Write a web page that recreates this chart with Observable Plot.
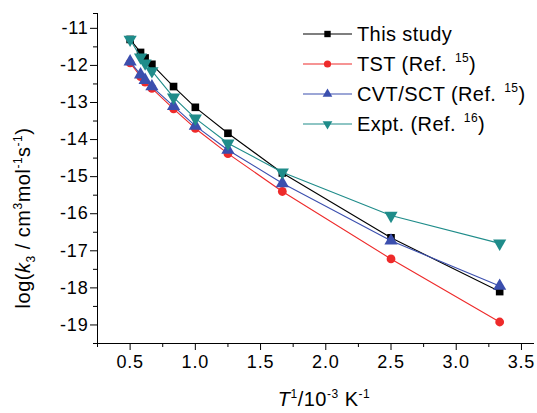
<!DOCTYPE html>
<html>
<head>
<meta charset="utf-8">
<script src="https://cdn.jsdelivr.net/npm/d3@7"></script>
<script src="https://cdn.jsdelivr.net/npm/@observablehq/plot@0.6"></script>
<style>
  body { margin: 0; background: #fff; }
  #wrap { position: relative; width: 537px; height: 413px; font-family: "Liberation Sans", Arial, sans-serif; color: #000; }
  #wrap > svg { position: absolute; left: 0; top: 0; }
  #wrap > svg text { letter-spacing: 0.8px; }
  .lbl { position: absolute; white-space: nowrap; font-size: 20px; line-height: 1; letter-spacing: 0.5px; }
  .lbl sup, .lbl sub { font-size: 12px; line-height: 0; }
  #ylab { left: 23px; top: 218px; transform: translate(-50%, -50%) rotate(-90deg); }
  #xlab { left: 324px; top: 399px; transform: translate(-50%, -50%); }
  #legend { position: absolute; left: 300px; top: 19px; }
  .row { display: flex; align-items: center; height: 30px; font-size: 20px; letter-spacing: 0.4px; white-space: nowrap; }
  .row svg { display: block; margin-right: 4px; flex: none; }
  .row sup { font-size: 12px; vertical-align: 0.75em; line-height: 0; margin-left: 2px; }
</style>
</head>
<body>
<div id="wrap"></div>
<script>
// 1/T (10^-3 K^-1)
const invT = [0.5, 0.58, 0.615, 0.667, 0.833, 1.0, 1.25, 1.667, 2.5, 3.333];
const thisStudy = [-11.3, -11.65, -11.8, -11.97, -12.57, -13.13, -13.83, -14.9, -16.65, -18.1];
const tst       = [-11.93, -12.3, -12.45, -12.62, -13.17, -13.7, -14.38, -15.4, -17.22, -18.92];
const cvtSct    = [-11.9, -12.25, -12.4, -12.57, -13.1, -13.63, -14.28, -15.18, -16.73, -17.95];
const expt      = [-11.3, -11.78, -11.94, -12.15, -12.86, -13.43, -14.1, -14.88, -16.05, -16.8];
const seriesNames = ["This study", "TST (Ref. 15)", "CVT/SCT (Ref. 15)", "Expt. (Ref. 16)"];
const seriesColors = ["#000000", "#ee2a2a", "#3b4fae", "#1f8c8a"];
const xMajor = [0.5, 1.0, 1.5, 2.0, 2.5, 3.0, 3.5];
const xMinor = [0.25, 0.75, 1.25, 1.75, 2.25, 2.75, 3.25];
const yMajor = [-19, -18, -17, -16, -15, -14, -13, -12, -11];
const yMinor = [-19.5, -18.5, -17.5, -16.5, -15.5, -14.5, -13.5, -12.5, -11.5, -10.6];

const triDown = {
  draw(ctx, size) {
    const y = -Math.sqrt(size / (Math.sqrt(3) * 3));
    ctx.moveTo(0, -2 * y);
    ctx.lineTo(-Math.sqrt(3) * y, y);
    ctx.lineTo(Math.sqrt(3) * y, y);
    ctx.closePath();
  }
};
const symbols = ["square", "circle", "triangle", triDown];
const radii = [4.3, 4.4, 4.9, 4.9];

const allValues = [thisStudy, tst, cvtSct, expt];
const data = allValues.flatMap((vals, i) => vals.map((v, j) => ({x: invT[j], y: v, s: seriesNames[i]})));

const marks = [
  Plot.ruleX([0.25], {stroke: "#000", strokeWidth: 1}),
  Plot.ruleY([-19.5], {stroke: "#000", strokeWidth: 1}),
  Plot.axisX(xMajor, {tickSize: 7, tickPadding: 5, fontSize: 18, label: null, tickFormat: d => d.toFixed(1)}),
  Plot.axisX(xMinor, {tickSize: 4, label: null, tickFormat: () => ""}),
  Plot.axisY(yMajor, {tickSize: 7, tickPadding: 2, fontSize: 18, label: null, tickFormat: d => "-" + Math.abs(d)}),
  Plot.axisY(yMinor, {tickSize: 4, label: null, tickFormat: () => ""})
];
seriesNames.forEach((name, i) => {
  const d = data.filter(r => r.s === name);
  marks.push(Plot.line(d, {x: "x", y: "y", stroke: seriesColors[i], strokeWidth: 1.1}));
  marks.push(Plot.dot(d, {x: "x", y: "y", symbol: symbols[i], r: radii[i], fill: seriesColors[i], stroke: "none"}));
});

const chart = Plot.plot({
  width: 537, height: 413,
  marginLeft: 97, marginRight: 3, marginTop: 13, marginBottom: 70,
  x: {domain: [0.25, 3.6]},
  y: {domain: [-19.5, -10.6]},
  style: {fontFamily: "'Liberation Sans', Arial, sans-serif", fontSize: "18px", color: "#000", background: "transparent", overflow: "visible"},
  marks
});
const wrap = document.getElementById("wrap");
wrap.appendChild(chart);

// axis titles
const ylab = document.createElement("div");
ylab.className = "lbl"; ylab.id = "ylab";
ylab.innerHTML = "log(<i>k</i><sub>3</sub> / cm<sup>3</sup>mol<sup>-1</sup>s<sup>-1</sup>)";
wrap.appendChild(ylab);
const xlab = document.createElement("div");
xlab.className = "lbl"; xlab.id = "xlab";
xlab.innerHTML = "<i>T</i><sup>1</sup>/10<sup>-3</sup> K<sup>-1</sup>";
wrap.appendChild(xlab);

// legend
const legendLabels = [["This study", ""], ["TST (Ref. ", "15", ")"], ["CVT/SCT (Ref. ", "15", ")"], ["Expt. (Ref. ", "16", ")"]];
const legend = document.createElement("div");
legend.id = "legend";
legendLabels.forEach((lab, i) => {
  const row = document.createElement("div");
  row.className = "row";
  const sw = d3.create("svg").attr("width", 53).attr("height", 14);
  sw.append("line").attr("x1", 3).attr("x2", 52).attr("y1", 7).attr("y2", 7).attr("stroke", seriesColors[i]).attr("stroke-width", 1.1);
  const symType = typeof symbols[i] === "string" ? {square: d3.symbolSquare, circle: d3.symbolCircle, triangle: d3.symbolTriangle}[symbols[i]] : symbols[i];
  sw.append("path").attr("transform", "translate(27.5,7)").attr("fill", seriesColors[i])
    .attr("d", d3.symbol(symType, Math.PI * 3.6 * 3.6)());
  row.appendChild(sw.node());
  const t = document.createElement("span");
  t.innerHTML = lab[1] ? `${lab[0]}<sup>${lab[1]}</sup>${lab[2]}` : lab[0];
  row.appendChild(t);
  legend.appendChild(row);
});
wrap.appendChild(legend);
</script>
</body>
</html>
